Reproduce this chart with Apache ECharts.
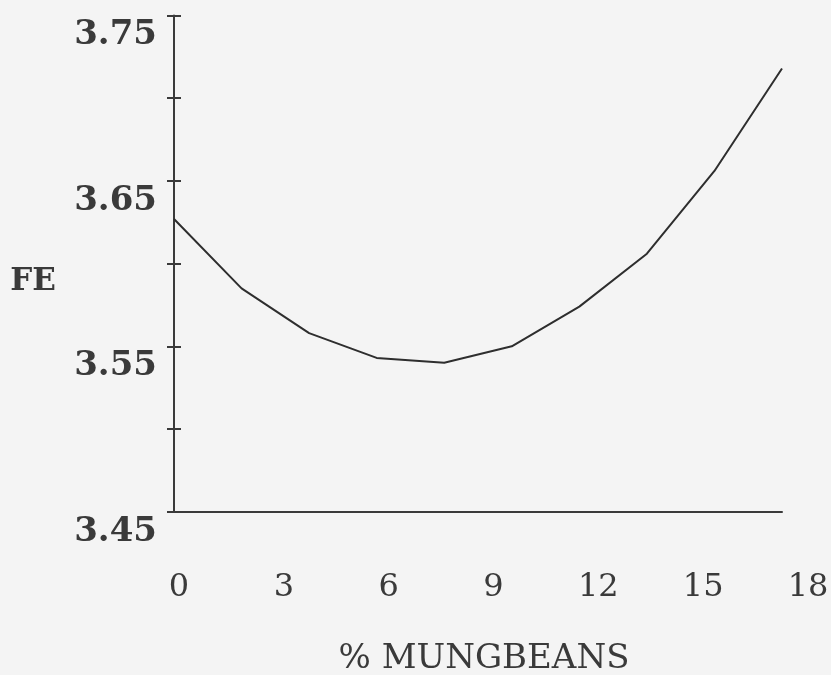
<!DOCTYPE html>
<html>
<head>
<meta charset="utf-8">
<script src="https://cdn.jsdelivr.net/npm/echarts@6/dist/echarts.min.js"></script>
<style>
html,body{margin:0;padding:0;background:#f4f4f4;}
#chart{width:831px;height:675px;}
</style>
</head>
<body>
<div id="chart"></div>
<script>
// Data
var mungbeanPct = [0, 2, 4, 6, 8, 10, 12, 14, 16, 18];
var feValues = [3.627, 3.585, 3.558, 3.543, 3.540, 3.550, 3.574, 3.606, 3.656, 3.718];
var xTickLabels = [0, 3, 6, 9, 12, 15, 18];
var yTickLabels = [3.45, 3.55, 3.65, 3.75];
var xTitle = '% MUNGBEANS';
var yTitle = 'FE';

var chart = echarts.init(document.getElementById('chart'), null, {renderer: 'canvas'});
var ink = '#3a3a3a';
var serif = '"DejaVu Serif", serif';

chart.setOption({
  backgroundColor: '#f4f4f4',
  animation: false,
  grid: [
    {left: 174, right: 49, top: 15.5, bottom: 163.3, containLabel: false, outerBoundsMode: 'none'},
    {left: 179, right: 23, top: 15.5, bottom: 163.3, containLabel: false, outerBoundsMode: 'none'}
  ],
  xAxis: [
    {
      type: 'value', gridIndex: 0, min: 0, max: 18, interval: 3,
      axisLine: {show: true, lineStyle: {color: ink, width: 2}},
      axisTick: {show: false},
      axisLabel: {show: false},
      splitLine: {show: false},
      name: xTitle, nameLocation: 'middle', nameGap: 130,
      nameTextStyle: {fontFamily: serif, fontSize: 34, color: ink, padding: [0, 0, 0, 12]}
    },
    {
      type: 'value', gridIndex: 1, min: 0, max: 18, interval: 3,
      axisLine: {show: false},
      axisTick: {show: false},
      splitLine: {show: false},
      axisLabel: {
        show: true, margin: 60, fontFamily: serif, fontSize: 32, color: ink,
        formatter: function (v) { return xTickLabels.indexOf(v) >= 0 ? String(v) : ''; }
      }
    }
  ],
  yAxis: [
    {
      type: 'value', gridIndex: 0, position: 'left', min: 3.45, max: 3.75, interval: 0.05,
      axisLine: {show: true, lineStyle: {color: ink, width: 2}},
      axisTick: {show: true, inside: false, length: 7, lineStyle: {color: ink, width: 2}},
      splitLine: {show: false},
      axisLabel: {
        show: true, margin: 17, fontFamily: serif, fontWeight: 'bold', fontSize: 34, color: ink,
        verticalAlign: 'top', lineHeight: 30, padding: [5, 0, 0, 0],
        formatter: function (v) {
          var r = Math.round(v * 100) / 100;
          return yTickLabels.indexOf(r) >= 0 ? r.toFixed(2) : '';
        }
      },
      name: yTitle, nameLocation: 'middle', nameRotate: 0, nameGap: 118,
      nameTextStyle: {fontFamily: serif, fontWeight: 'bold', fontSize: 31, color: ink, verticalAlign: 'top', lineHeight: 36}
    },
    {
      type: 'value', gridIndex: 0, position: 'left', offset: 0, min: 3.45, max: 3.75, interval: 0.05,
      axisLine: {show: false},
      axisTick: {show: true, inside: true, length: 7, lineStyle: {color: ink, width: 2}},
      axisLabel: {show: false},
      splitLine: {show: false}
    },
    {
      type: 'value', gridIndex: 1, min: 3.45, max: 3.75, show: false
    }
  ],
  series: [{
    type: 'line',
    xAxisIndex: 0, yAxisIndex: 0,
    data: mungbeanPct.map(function (x, i) { return [x, feValues[i]]; }),
    showSymbol: false,
    smooth: false,
    lineStyle: {color: '#2e2e2e', width: 2}
  }]
});
</script>
</body>
</html>
